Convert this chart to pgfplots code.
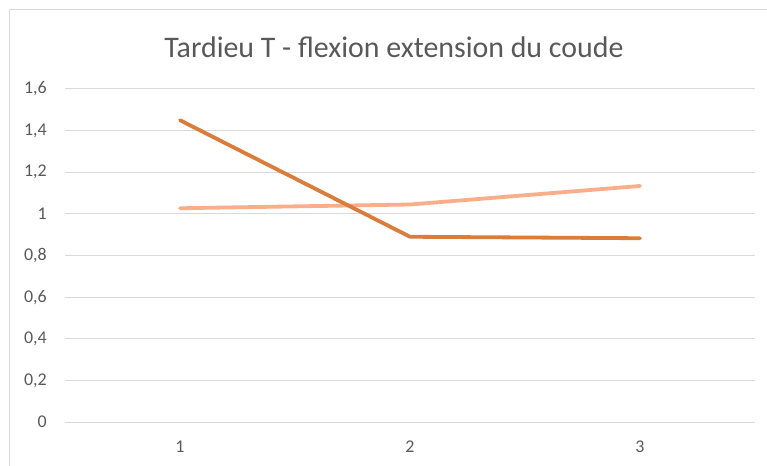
\documentclass[border=0pt]{standalone}
\usepackage{pgfplots}
\pgfplotsset{compat=1.18}
\usepackage{fontspec}
\setmainfont{Carlito}
\definecolor{darkor}{HTML}{DA7D3A}
\definecolor{lightor}{HTML}{F8AE88}
\definecolor{gridc}{HTML}{D9D9D9}
\definecolor{txt}{HTML}{595959}
\begin{document}
\begin{tikzpicture}
\useasboundingbox (-65bp,-44bp) rectangle (702bp,422bp);
\draw[gridc, line width=1bp] (-55bp,-44bp) -- (-55bp,412bp) -- (702bp,412bp);
\begin{axis}[at={(0,0)}, anchor=south west, scale only axis,
  width=690bp, height=333bp,
  xmin=0.5, xmax=3.5, ymin=0, ymax=1.6,
  xtick={1,2,3}, ytick={0,0.2,0.4,0.6,0.8,1,1.2,1.4,1.6},
  axis line style={draw=none}, major tick length=0pt,
  ymajorgrids, grid style={gridc, line width=1bp},
  clip=false,
  tick label style={font=\fontsize{18}{20}\selectfont, text=txt},
  yticklabel style={anchor=east, inner sep=0pt, xshift=-18bp},
  xticklabel style={anchor=center, inner sep=0pt, yshift=-25bp},
  /pgf/number format/.cd, use comma, fixed, precision=1, assume math mode=true,
]
\addplot[lightor, line width=3.8bp, line cap=round, line join=round] coordinates {(1,1.027) (2,1.045) (3,1.134)};
\addplot[darkor, line width=3.8bp, line cap=round, line join=round] coordinates {(1,1.45) (2,0.89) (3,0.883)};
\end{axis}
\node[font=\fontsize{30}{34}\selectfont, text=txt] at (329bp,375bp) {Tardieu T - flexion extension du coude};
\end{tikzpicture}
\end{document}
